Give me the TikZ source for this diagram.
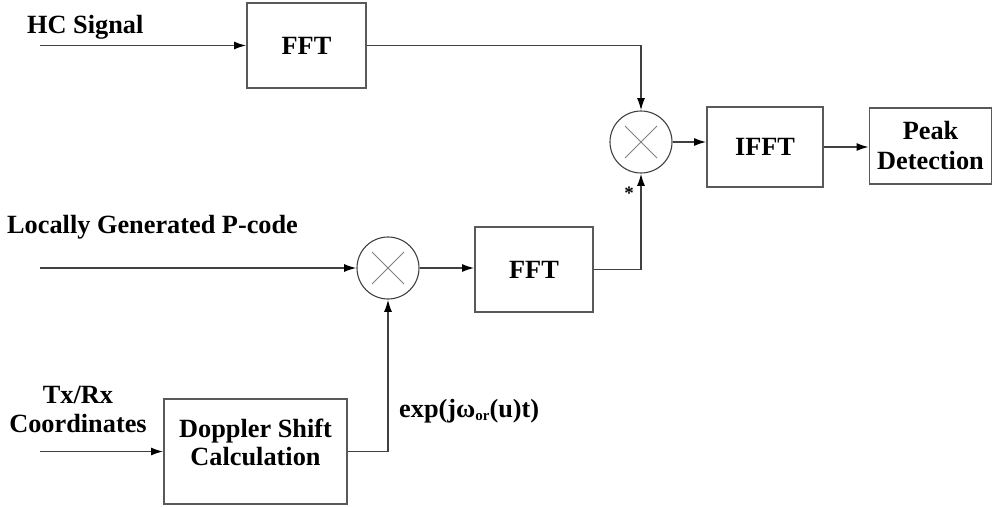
\documentclass[tikz,border=0pt]{standalone}
\usepackage{fontspec}
\setmainfont{Liberation Serif}[BoldFont={Liberation Serif Bold}]
\usetikzlibrary{arrows.meta}
\begin{document}
\begin{tikzpicture}[x=1pt,y=-1pt,
  every node/.style={font=\bfseries\fontsize{26.3}{30}\selectfont, inner sep=0pt},
  blockbox/.style={draw=black!65, line width=1.3pt, fill=white, align=center},
  mixer/.style={draw=black!75, line width=1.1pt, circle, minimum size=62pt},
  wire/.style={draw=black!75, line width=1.3pt},
  feed/.style={wire, -{Latex[length=12pt,width=8pt,color=black]}, shorten >=0.3pt}
]
\useasboundingbox (0,0) rectangle (993,506);

% processing blocks
\node[blockbox, minimum width=119pt, minimum height=85pt] (fftA) at (306.5,45.5) {FFT};
\node[blockbox, minimum width=116pt, minimum height=80pt] (ifft) at (765,147) {IFFT};
\node[blockbox, minimum width=122pt, minimum height=76pt] (peak) at (930.5,146) {Peak\\Detection};
\node[blockbox, minimum width=118pt, minimum height=85pt] (fftB) at (534,269.5) {FFT};
\node[blockbox, minimum width=183pt, minimum height=105pt, text depth=18pt] (dopp) at (255.5,451.5) {Doppler Shift\\[-2pt]Calculation};

% multipliers
\node[mixer] (mulA) at (641,142) {};
\node[mixer] (mulB) at (388,268) {};
\foreach \m in {mulA,mulB}{
  \draw[black!50, line width=0.9pt] (\m.center) ++(-16,-16) -- ++(32,32);
  \draw[black!50, line width=0.9pt] (\m.center) ++(-16,16) -- ++(32,-32);
}

% free input ends
\coordinate (hcIn) at (40,45.5);
\coordinate (pIn) at (40,268);
\coordinate (txIn) at (40,451.5);

% labels
\node[anchor=base west] (hcLbl) at (27,33) {HC Signal};
\node[anchor=base west] (pLbl) at (7,233) {Locally Generated P-code};
\node[align=center, anchor=base] (txLbl) at (78,432) {Tx/Rx\\[-1.5pt]Coordinates};
\node[anchor=base west] (expLbl) at (399,417)
  {exp(jω\raisebox{-3pt}{\fontsize{15}{15}\selectfont or}(u)t)};
\node[font=\bfseries\fontsize{19}{19}\selectfont, anchor=base] (conj) at (629,199) {*};

% connectors
\draw[feed] (hcIn) -- (fftA.west);
\draw[feed] (fftA.east) -| (mulA.north);
\draw[feed] (mulA.east) -- (mulA.east -| ifft.west);
\draw[feed] (ifft.east) -- (ifft.east -| peak.west);
\draw[feed] (pIn) -- (mulB.west);
\draw[feed] (mulB.east) -- (mulB.east -| fftB.west);
\draw[feed] (fftB.east) -| (mulA.south);
\draw[feed] (txIn) -- (dopp.west);
\draw[feed] (dopp.east) -| (mulB.south);
\end{tikzpicture}
\end{document}
